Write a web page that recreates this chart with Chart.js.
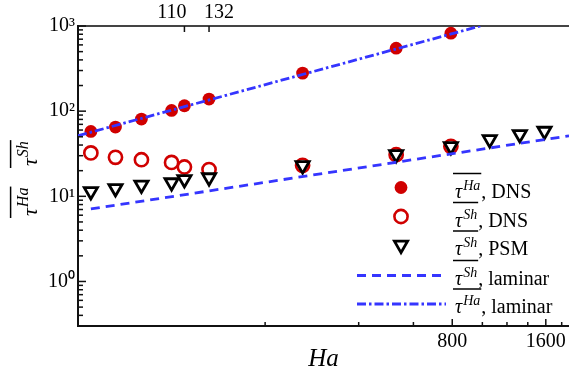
<!DOCTYPE html>
<html>
<head>
<meta charset="utf-8">
<script src="https://cdn.jsdelivr.net/npm/chart.js@4.4.1/dist/chart.umd.min.js"></script>
<style>
  html, body { margin: 0; padding: 0; background: #fff; }
  canvas { display: block; }
</style>
</head>
<body>
<canvas id="tauChart" width="569" height="374"></canvas>
<script>
const SERIF = "'Liberation Serif', 'Times New Roman', serif";
const RED = '#d00000';
const BLUE = '#3535ff';

// DNS runs
const haDns = [55, 66, 80, 100, 110, 132, 264, 528, 792];
const tauHaDns = [57.8, 65.1, 80.8, 101.9, 115.7, 138.6, 279.7, 549, 823];
const tauShDns = [32.3, 28.7, 26.9, 25.0, 22.1, 20.6, 23.1, 30.8, 38.6];
// PSM runs
const haPsm = [55, 66, 80, 100, 110, 132, 264, 528, 792, 1056, 1320, 1584];
const tauShPsm = [11.4, 12.4, 13.6, 14.5, 15.8, 16.6, 23.0, 31.0, 38.5, 46.5, 53.3, 58.4];
// laminar curves
const haLamSh = [55, 1900];
const tauShLam = [7.1, 51.3];
const haLamHa = [50, 1000];
const tauHaLam = [51.5, 1015];

// axes
const xBottomTicks = [200, 400, 600, 800, 1000, 1200, 1400, 1600, 1800];
const xBottomLabels = [800, 1600];
const xTopTicks = [110, 132];
const xTopLabels = ['110     ', '    132'];
const yMajorTicks = [1, 10, 100, 1000];
const yMajorLabels = ['10⁰', '10¹', '10²', '10³'];
const yMinorTicks = [0.4, 0.5, 0.6, 0.7, 0.8, 0.9,
    2, 3, 4, 5, 6, 7, 8, 9,
    20, 30, 40, 50, 60, 70, 80, 90,
    200, 300, 400, 500, 600, 700, 800, 900];

// legend
const legendSup = ['Ha', 'Sh', 'Sh', 'Sh', 'Ha'];
const legendTail = [', DNS', ', DNS', ', PSM', ', laminar', ', laminar'];

function pts(xs, ys) {
    return xs.map((x, i) => ({ x: x, y: ys[i] }));
}

// τ with superscript and a bar over both, returns end x
function drawTau(ctx, x, y, sup, size, supSize) {
    ctx.font = `italic ${size}px ${SERIF}`;
    ctx.fillText('τ', x, y);
    const w = ctx.measureText('τ').width;
    ctx.font = `italic ${supSize}px ${SERIF}`;
    ctx.fillText(sup, x + w + 1, y - size * 0.4);
    const end = x + w + 1 + ctx.measureText(sup).width;
    ctx.beginPath();
    ctx.lineWidth = 1.5;
    ctx.moveTo(x - 2, y - size * 1.2);
    ctx.lineTo(end + 1, y - size * 1.2);
    ctx.stroke();
    return end;
}

function drawMarker(ctx, kind, x, y) {
    ctx.beginPath();
    if (kind === 'filled') {
        ctx.fillStyle = RED;
        ctx.arc(x, y, 6.4, 0, Math.PI * 2);
        ctx.fill();
    } else if (kind === 'open') {
        ctx.strokeStyle = RED;
        ctx.lineWidth = 2.6;
        ctx.fillStyle = '#fff';
        ctx.arc(x, y, 6.6, 0, Math.PI * 2);
        ctx.fill();
        ctx.stroke();
    } else {
        const r = 7.6;
        ctx.strokeStyle = '#000';
        ctx.lineWidth = 2.8;
        ctx.fillStyle = '#fff';
        ctx.moveTo(x, y + r);
        ctx.lineTo(x - r * 0.866, y - r / 2);
        ctx.lineTo(x + r * 0.866, y - r / 2);
        ctx.closePath();
        ctx.fill();
        ctx.stroke();
    }
}

const extras = {
    id: 'extras',
    afterDraw(chart) {
        const ctx = chart.ctx;
        const a = chart.chartArea;
        ctx.save();

        // inward tick marks
        ctx.strokeStyle = '#111';
        ctx.lineWidth = 1.5;
        const ys = chart.scales.y;
        ys.ticks.forEach(t => {
            const p = ys.getPixelForValue(t.value);
            const len = yMajorTicks.includes(t.value) ? 8 : 5;
            ctx.beginPath(); ctx.moveTo(a.left, p); ctx.lineTo(a.left + len, p); ctx.stroke();
        });
        const xs = chart.scales.x;
        xs.ticks.forEach(t => {
            const p = xs.getPixelForValue(t.value);
            const len = xBottomLabels.includes(t.value) ? 7 : 4;
            ctx.beginPath(); ctx.moveTo(p, a.bottom); ctx.lineTo(p, a.bottom - len); ctx.stroke();
        });
        const xt = chart.scales.xTop;
        xt.ticks.forEach(t => {
            const p = xt.getPixelForValue(t.value);
            ctx.beginPath(); ctx.moveTo(p, a.top); ctx.lineTo(p, a.top + 6); ctx.stroke();
        });

        // y axis title (rotated)
        ctx.fillStyle = '#000';
        ctx.strokeStyle = '#000';
        ctx.textBaseline = 'alphabetic';
        ctx.textAlign = 'left';
        ctx.save();
        ctx.translate(37, 216);
        ctx.rotate(-Math.PI / 2);
        drawTau(ctx, 0, 0, 'Ha', 22, 16);
        drawTau(ctx, 50, 0, 'Sh', 22, 16);
        ctx.restore();

        // legend
        const kinds = ['filled', 'open', 'tri', 'dash', 'dashdot'];
        const base = [197.5, 226.5, 255, 284.5, 313];
        kinds.forEach((k, i) => {
            const b = base[i];
            if (k === 'dash' || k === 'dashdot') {
                ctx.beginPath();
                ctx.strokeStyle = BLUE;
                ctx.lineWidth = 2.8;
                ctx.setLineDash(k === 'dash' ? [9, 6] : [9, 3, 2.5, 3]);
                ctx.moveTo(357, b - 9);
                ctx.lineTo(446, b - 9);
                ctx.stroke();
                ctx.setLineDash([]);
            } else {
                drawMarker(ctx, k, 401, b - 10);
            }
            ctx.fillStyle = '#000';
            ctx.strokeStyle = '#000';
            const end = drawTau(ctx, 455, b, legendSup[i], 20, 14);
            ctx.font = `20px ${SERIF}`;
            ctx.fillText(legendTail[i], end + 1, b);
        });
        ctx.restore();
    }
};

function fitX(h) {
    return s => { s.height = h; s.paddingLeft = 0; s.paddingRight = 0; };
}

new Chart(document.getElementById('tauChart'), {
    type: 'scatter',
    data: {
        datasets: [
            {
                label: 'tauHa laminar',
                data: pts(haLamHa, tauHaLam),
                showLine: true,
                borderColor: BLUE,
                borderWidth: 2.8,
                borderDash: [9, 3, 2.5, 3],
                pointRadius: 0,
                order: 0
            },
            {
                label: 'tauSh laminar',
                data: pts(haLamSh, tauShLam),
                showLine: true,
                borderColor: BLUE,
                borderWidth: 2.8,
                borderDash: [9, 6],
                pointRadius: 0,
                order: 0
            },
            {
                label: 'tauSh PSM',
                data: pts(haPsm, tauShPsm),
                pointStyle: 'triangle',
                pointRotation: 180,
                pointRadius: 7.6,
                pointBorderWidth: 2.8,
                borderColor: '#000',
                backgroundColor: '#fff',
                order: 1
            },
            {
                label: 'tauSh DNS',
                data: pts(haDns, tauShDns),
                pointStyle: 'circle',
                pointRadius: 6.6,
                pointBorderWidth: 2.6,
                borderColor: RED,
                backgroundColor: '#fff',
                order: 2
            },
            {
                label: 'tauHa DNS',
                data: pts(haDns, tauHaDns),
                pointStyle: 'circle',
                pointRadius: 6.4,
                pointBorderWidth: 0,
                borderColor: RED,
                backgroundColor: RED,
                order: 3
            }
        ]
    },
    options: {
        responsive: false,
        devicePixelRatio: 1,
        animation: false,
        layout: { padding: 0, autoPadding: false },
        plugins: {
            legend: { display: false },
            tooltip: { enabled: false }
        },
        scales: {
            x: {
                type: 'logarithmic',
                position: 'bottom',
                min: 50,
                max: 1900,
                afterBuildTicks: s => { s.ticks = xBottomTicks.map(v => ({ value: v })); },
                afterFit: fitX(48),
                grid: { drawOnChartArea: false, drawTicks: false },
                border: { color: '#111', width: 2 },
                ticks: {
                    autoSkip: false,
                    maxRotation: 0,
                    padding: 4,
                    color: '#000',
                    font: { family: SERIF, size: 20 },
                    callback: v => xBottomLabels.includes(v) ? String(v) : ''
                },
                title: {
                    display: true,
                    text: 'Ha',
                    color: '#000',
                    padding: 0,
                    font: { family: SERIF, size: 25, style: 'italic' }
                }
            },
            xTop: {
                type: 'logarithmic',
                position: 'top',
                axis: 'x',
                min: 50,
                max: 1900,
                afterBuildTicks: s => { s.ticks = xTopTicks.map(v => ({ value: v })); },
                afterFit: fitX(26),
                grid: { drawOnChartArea: false, drawTicks: false },
                border: { color: '#444', width: 2 },
                ticks: {
                    autoSkip: false,
                    maxRotation: 0,
                    padding: 1,
                    color: '#000',
                    font: { family: SERIF, size: 20 },
                    callback: v => xTopLabels[xTopTicks.indexOf(v)]
                }
            },
            y: {
                type: 'logarithmic',
                position: 'left',
                min: 0.307,
                max: 1000,
                afterBuildTicks: s => {
                    s.ticks = yMinorTicks.concat(yMajorTicks).sort((p, q) => p - q).map(v => ({ value: v }));
                },
                afterFit: s => { s.width = 78; s.paddingTop = 0; s.paddingBottom = 0; },
                grid: { drawOnChartArea: false, drawTicks: false },
                border: { color: '#111', width: 2 },
                ticks: {
                    autoSkip: false,
                    padding: 3,
                    color: '#000',
                    font: { family: SERIF, size: 20 },
                    callback: v => {
                        const i = yMajorTicks.indexOf(v);
                        return i >= 0 ? yMajorLabels[i] : '';
                    }
                }
            }
        }
    },
    plugins: [extras]
});
</script>
</body>
</html>
